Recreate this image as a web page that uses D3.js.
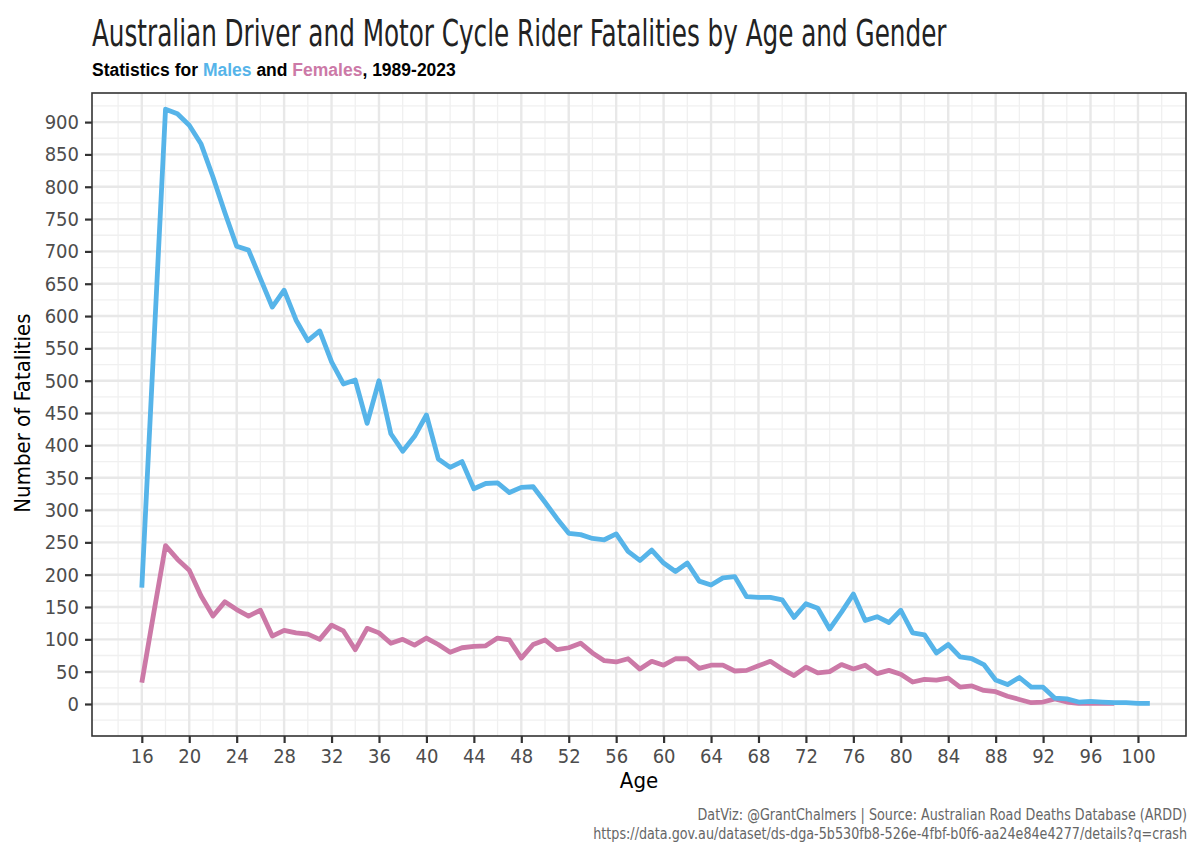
<!doctype html>
<html lang="en">
<head>
<meta charset="utf-8">
<script src="https://d3js.org/d3.v7.min.js"></script>
<style>
  body { margin: 0; background: #fff; }
  svg { display: block; }
  .tick text { font-family: "Liberation Sans Narrow", "DejaVu Sans Condensed", sans-serif; }
</style>
</head>
<body>
<div id="chart"></div>
<script>
// ages 16..101
var ages = [16,17,18,19,20,21,22,23,24,25,26,27,28,29,30,31,32,33,34,35,36,37,38,39,40,
  41,42,43,44,45,46,47,48,49,50,51,52,53,54,55,56,57,58,59,60,61,62,63,64,65,66,67,68,69,70,
  71,72,73,74,75,76,77,78,79,80,81,82,83,84,85,86,87,88,89,90,91,92,93,94,95,96,97,98,99,100,101];

var males = [180,550,920,913,895,866,815,760,708,702,658,614,640,594,562,577,529,495,501,434,500,
  418,391,414,447,379,366,375,333,341,342,327,335,336,312,287,264,262,256,254,263,236,222,238,218,
  205,218,190,184,195,197,166,165,165,161,134,155,148,116,142,170,129,135,126,145,110,107,79,92,
  73,70,61,37,30,41,26,26,9,8,3,4,3,2,2,1,1];

// females stop at age 98
var females = [33,140,245,224,207,167,136,158,146,136,145,105,114,110,108,100,122,113,84,117,110,
  94,100,91,102,92,80,87,89,90,102,99,71,92,99,84,87,94,79,67,65,70,54,66,60,70,70,55,60,60,51,
  52,59,66,54,44,57,48,50,61,54,60,47,52,46,34,38,37,40,26,28,21,19,12,7,2,3,8,3,1,1,1,1];

var xTicks = [16,20,24,28,32,36,40,44,48,52,56,60,64,68,72,76,80,84,88,92,96,100];
var xMinor = [14,18,22,26,30,34,38,42,46,50,54,58,62,66,70,74,78,82,86,90,94,98,102];
var yTicks = [0,50,100,150,200,250,300,350,400,450,500,550,600,650,700,750,800,850,900];
var yMinor = [-25,25,75,125,175,225,275,325,375,425,475,525,575,625,675,725,775,825,875,925];

var maleColor = "#56B4E9", femaleColor = "#CC79A7";

var W = 1200, H = 857;
var margin = { top: 93, right: 14, bottom: 121, left: 92 },
    width = W - margin.left - margin.right,
    height = H - margin.top - margin.bottom;

var svg = d3.select("#chart").append("svg")
    .attr("width", W).attr("height", H);

var g = svg.append("g")
    .attr("transform", "translate(" + margin.left + "," + margin.top + ")");

var x = d3.scaleLinear().domain([11.8, 104.05]).range([0, width]);
var y = d3.scaleLinear().domain([-49.5, 945]).range([height, 0]);

// grid
g.selectAll(".xminor").data(xMinor).enter().append("line")
    .attr("x1", d => x(d)).attr("x2", d => x(d)).attr("y1", 0).attr("y2", height)
    .attr("stroke", "#f0f0f0").attr("stroke-width", 1.3);
g.selectAll(".yminor").data(yMinor).enter().append("line")
    .attr("y1", d => y(d)).attr("y2", d => y(d)).attr("x1", 0).attr("x2", width)
    .attr("stroke", "#f0f0f0").attr("stroke-width", 1.3);
g.selectAll(".xmajor").data(xTicks).enter().append("line")
    .attr("x1", d => x(d)).attr("x2", d => x(d)).attr("y1", 0).attr("y2", height)
    .attr("stroke", "#e8e8e8").attr("stroke-width", 2.4);
g.selectAll(".ymajor").data(yTicks).enter().append("line")
    .attr("y1", d => y(d)).attr("y2", d => y(d)).attr("x1", 0).attr("x2", width)
    .attr("stroke", "#e8e8e8").attr("stroke-width", 2.4);

// lines
var line = d3.line()
    .x(function (d) { return x(d[0]); })
    .y(function (d) { return y(d[1]); });

g.append("path")
    .datum(females.map(function (v, i) { return [ages[i], v]; }))
    .attr("fill", "none").attr("stroke", femaleColor)
    .attr("stroke-width", 4.8).attr("stroke-linejoin", "round")
    .attr("d", line);

g.append("path")
    .datum(males.map(function (v, i) { return [ages[i], v]; }))
    .attr("fill", "none").attr("stroke", maleColor)
    .attr("stroke-width", 4.8).attr("stroke-linejoin", "round")
    .attr("d", line);

// panel border
g.append("rect").attr("width", width).attr("height", height)
    .attr("fill", "none").attr("stroke", "#333").attr("stroke-width", 1.6);

// axes
var xAxis = g.append("g")
    .attr("transform", "translate(0," + height + ")")
    .call(d3.axisBottom(x).tickValues(xTicks).tickSize(7).tickPadding(6).tickFormat(d3.format("d")));
var yAxis = g.append("g")
    .call(d3.axisLeft(y).tickValues(yTicks).tickSize(7).tickPadding(6).tickFormat(d3.format("d")));

[xAxis, yAxis].forEach(function (a) {
  a.select(".domain").remove();
  a.selectAll(".tick line").attr("stroke", "#333").attr("stroke-width", 2.2);
  a.selectAll(".tick text").attr("fill", "#4d4d4d").style("font-size", "20px");
});

// axis titles
svg.append("text")
    .attr("x", margin.left + width / 2).attr("y", 788)
    .attr("text-anchor", "middle")
    .style("font-family", "'Liberation Sans Narrow', 'DejaVu Sans Condensed', sans-serif")
    .style("font-size", "22px").attr("fill", "#000")
    .text("Age");

svg.append("text")
    .attr("transform", "translate(30," + (margin.top + y(450)) + ") rotate(-90)")
    .attr("text-anchor", "middle")
    .style("font-family", "'Liberation Sans Narrow', 'DejaVu Sans Condensed', sans-serif")
    .style("font-size", "22px").attr("fill", "#000")
    .text("Number of Fatalities");

// squeeze a text horizontally so it spans a given width (condensed look)
function squeeze(sel, x0, y0, w, anchorEnd) {
  var tw = sel.node().getComputedTextLength();
  var s = Math.min(1, w / tw);
  sel.attr("transform", "translate(" + x0 + "," + y0 + ") scale(" + s + ",1)");
}

// title
var title = svg.append("text")
    .style("font-family", "'Liberation Sans Narrow', 'DejaVu Sans Condensed', sans-serif")
    .style("font-size", "38px").attr("fill", "#222")
    .text("Australian Driver and Motor Cycle Rider Fatalities by Age and Gender");
squeeze(title, 92, 46, 855);

// subtitle
var sub = svg.append("text")
    .attr("x", 92).attr("y", 76)
    .style("font-family", "'Liberation Sans', Arial, sans-serif")
    .style("font-size", "17.5px").style("font-weight", "bold").attr("fill", "#000");
sub.append("tspan").text("Statistics for ");
sub.append("tspan").attr("fill", maleColor).text("Males");
sub.append("tspan").text(" and ");
sub.append("tspan").attr("fill", femaleColor).text("Females");
sub.append("tspan").text(", 1989-2023");

// caption (right aligned)
var cap = svg.append("g")
    .style("font-family", "'Liberation Sans Narrow', 'DejaVu Sans Condensed', sans-serif")
    .style("font-size", "16px").attr("fill", "#666").attr("text-anchor", "end");
var c1 = cap.append("text")
    .text("DatViz: @GrantChalmers | Source: Australian Road Deaths Database (ARDD)");
squeeze(c1, 1187, 820, 490);
var c2 = cap.append("text")
    .text("https://data.gov.au/dataset/ds-dga-5b530fb8-526e-4fbf-b0f6-aa24e84e4277/details?q=crash");
squeeze(c2, 1187, 839, 594);
</script>
</body>
</html>
